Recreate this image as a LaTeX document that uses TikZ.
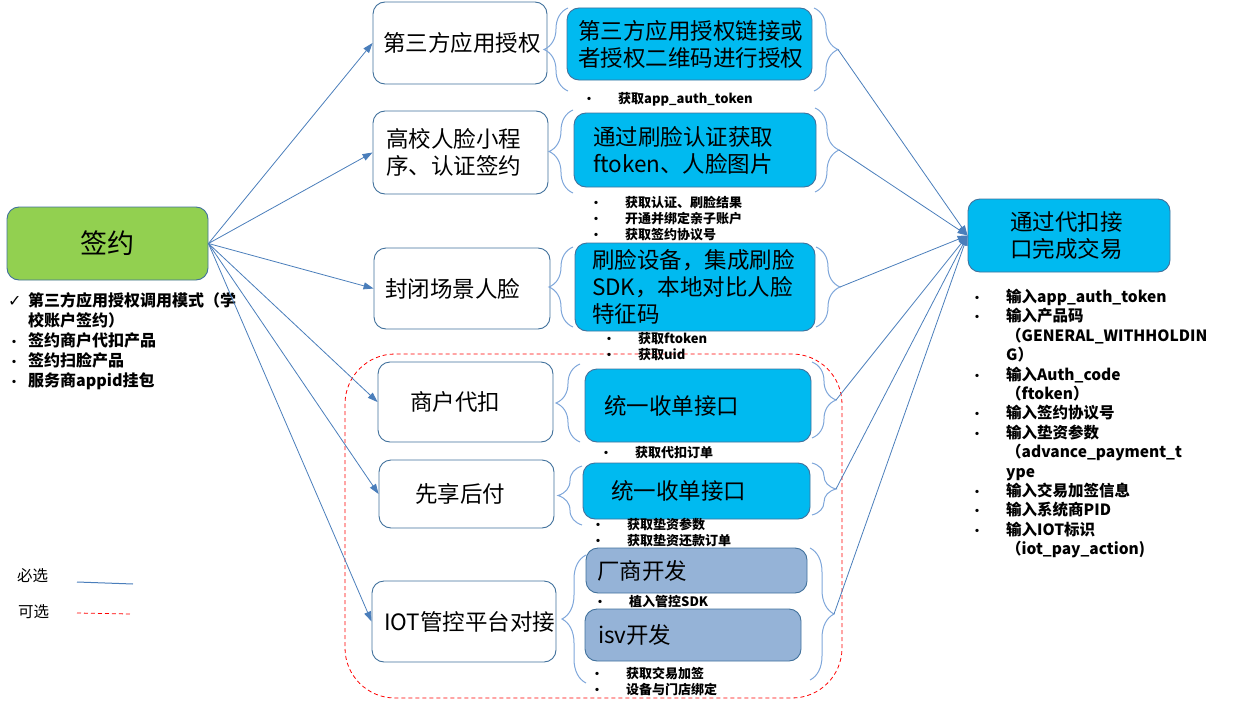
\documentclass[tikz,border=0pt]{standalone}
\usepackage{fontspec}
\setmainfont{Noto Sans CJK SC}
\newfontfamily\checkfont{DejaVu Sans}
\usetikzlibrary{arrows.meta,decorations.pathreplacing}

\definecolor{signgreen}{HTML}{92D050}
\definecolor{cyanfill}{HTML}{00BAF0}
\definecolor{greyblue}{HTML}{95B3D7}
\definecolor{boxline}{HTML}{41719C}
\definecolor{linkblue}{HTML}{4A7EBB}
\definecolor{bracecol}{HTML}{7EA6DA}

\newcommand\bul[1][35pt]{\makebox[#1][l]{\fontsize{12}{12}\selectfont •}}

\tikzset{
  plainbox/.style={draw=boxline, line width=0.9pt, rounded corners=12pt, align=left,
    inner ysep=0pt, font=\fontsize{22.5}{27}\selectfont},
  whitebox/.style={plainbox, fill=white},
  cyanbox/.style={plainbox, fill=cyanfill},
  greybox/.style={plainbox, fill=greyblue},
  notes/.style={align=left, inner sep=0pt, font=\bfseries\fontsize{13}{16}\selectfont},
  link/.style={draw=linkblue, line width=0.8pt, -{Triangle[length=10pt,width=7pt]}},
  brc/.style={draw=bracecol, line width=1pt, decorate, decoration={brace, amplitude=24pt}},
  optline/.style={draw=red, line width=0.8pt, dash pattern=on 4pt off 3pt},
}

\begin{document}
\begin{tikzpicture}[x=1pt,y=-1pt]
\useasboundingbox (0,0) rectangle (1255,701);

% optional area
\draw[optline, rounded corners=50pt] (345,354) rectangle (842,698);

% left: sign
\node[plainbox, fill=signgreen, align=center, minimum width=201pt, minimum height=73pt,
  font=\fontsize{27}{30}\selectfont] (sign) at (107.5,243.5) {签约};
\node[notes, font=\bfseries\fontsize{16}{20}\selectfont, anchor=north west] (signlist) at (8,292)
  {\makebox[20pt][l]{\checkfont\mdseries ✓}第三方应用授权调用模式（学\\
   \hspace*{20pt}校账户签约）\\
   \bul[20pt]签约商户代扣产品\\
   \bul[20pt]签约扫脸产品\\
   \bul[20pt]服务商appid挂包};

% first column
\node[whitebox, minimum height=82pt, text width=154pt, inner xsep=10pt] (auth1) at (460,43) {第三方应用授权};
\node[whitebox, minimum height=83pt, text width=149pt, inner xsep=13pt] (face1) at (460.5,152.5) {高校人脸小程\\序、认证签约};
\node[whitebox, minimum height=81pt, text width=154pt, inner xsep=11pt] (scene1) at (462,288.5) {封闭场景人脸};
\node[whitebox, minimum height=80pt, text width=111pt, inner xsep=32pt] (merch) at (465.5,402) {商户代扣};
\node[whitebox, minimum height=68pt, text width=103pt, inner xsep=36pt] (later) at (466.5,494) {先享后付};
\node[whitebox, minimum height=81pt, text width=160pt, inner xsep=12pt] (iot) at (464,621.5) {IOT管控平台对接};

% second column
\node[cyanbox, minimum height=72pt, text width=223pt, inner xsep=11pt] (auth2) at (689.5,44) {第三方应用授权链接或\\者授权二维码进行授权};
\node[cyanbox, minimum height=74pt, text width=204pt, inner xsep=19pt] (face2) at (695,150) {通过刷脸认证获取\\ftoken、人脸图片};
\node[cyanbox, minimum height=88pt, text width=206pt, inner xsep=17pt] (scene2) at (695,287) {刷脸设备，集成刷脸\\SDK，本地对比人脸\\特征码};
\node[cyanbox, minimum height=73pt, text width=188pt, inner xsep=19pt] (order1) at (698,405.5) {统一收单接口};
\node[cyanbox, minimum height=56pt, text width=171pt, inner xsep=28pt] (order2) at (696.5,491) {统一收单接口};
\node[greybox, minimum height=45pt, text width=199pt, inner xsep=11pt] (vendor) at (696.5,570.5) {厂商开发};
\node[greybox, minimum height=52pt, text width=190pt, inner xsep=13pt] (isv) at (693,635) {isv开发};

% notes under the boxes
\node[notes, anchor=west] (n1) at (583,99) {\bul 获取app\_auth\_token};
\node[notes, anchor=west] (n2) at (590,219) {\bul 获取认证、刷脸结果\\\bul 开通并绑定亲子账户\\\bul 获取签约协议号};
\node[notes, anchor=west] (n3) at (603,347) {\bul 获取ftoken\\\bul 获取uid};
\node[notes, anchor=west] (n4) at (600,453) {\bul 获取代扣订单};
\node[notes, anchor=west] (n5) at (592,533) {\bul 获取垫资参数\\\bul 获取垫资还款订单};
\node[notes, anchor=west] (n6) at (594,602) {\bul 植入管控SDK};
\node[notes, anchor=west] (n7) at (591,681) {\bul 获取交易加签\\\bul 设备与门店绑定};

% braces round the second column
\foreach \lx/\lya/\lyb/\rx/\rya/\ryb [count=\i] in
  {568/8/91/814/8/91, 573/110/193/815/108/192, 573/247/327/816/247/327,
   580/364/442/812/362/438, 582/466/525/812/463/515, 586/555/683/810/548/680}{
  \draw[brc] (\lx,\lyb) -- (\lx,\lya);
  \draw[brc] (\rx,\rya) -- (\rx,\ryb);
  \coordinate (tip\i) at (\rx+24,{(\rya+\ryb)/2});
}

% right: deal
\node[cyanbox, minimum height=73pt, text width=118pt, inner xsep=42pt] (deal) at (1069,235.5) {通过代扣接\\口完成交易};
\node[notes, font=\bfseries\fontsize{15.5}{19.4}\selectfont, anchor=north west] (deallist) at (971,289)
  {\bul 输入app\_auth\_token\\
   \bul 输入产品码\\
   \hspace*{35pt}（GENERAL\_WITHHOLDIN\\
   \hspace*{35pt}G）\\
   \bul 输入Auth\_code\\
   \hspace*{35pt}（ftoken）\\
   \bul 输入签约协议号\\
   \bul 输入垫资参数\\
   \hspace*{35pt}（advance\_payment\_t\\
   \hspace*{35pt}ype\\
   \bul 输入交易加签信息\\
   \bul 输入系统商PID\\
   \bul 输入IOT标识\\
   \hspace*{35pt}（iot\_pay\_action)};

% connectors
\foreach \b in {auth1,face1,scene1,merch,later,iot}
  \draw[link] (sign.east) -- (\b.west);
\foreach \i in {1,...,6}
  \draw[link] (tip\i) -- (deal.west);

% legend
\node[inner sep=0pt, font=\fontsize{15.5}{18}\selectfont] (must) at (32.5,576) {必选};
\node[inner sep=0pt, font=\fontsize{15.5}{18}\selectfont] (may) at (33.5,612) {可选};
\coordinate (mustA) at (77,582);
\coordinate (mustB) at (133,584);
\coordinate (mayA) at (77,613);
\coordinate (mayB) at (131,614);
\draw[draw=linkblue, line width=1pt] (mustA) -- (mustB);
\draw[optline] (mayA) -- (mayB);
\end{tikzpicture}
\end{document}
